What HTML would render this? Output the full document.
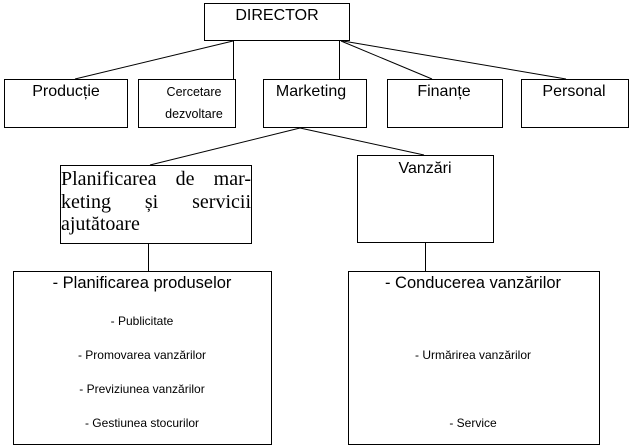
<!DOCTYPE html>
<html><head><meta charset="utf-8"><style>
body{margin:0;width:630px;height:447px;background:#fff;position:relative;overflow:hidden;font-family:"Liberation Sans",sans-serif;color:#000}
.b{position:absolute;border:1px solid #000;box-sizing:border-box;background:#fff}
.t{position:absolute;white-space:nowrap;text-align:center;transform:translateX(-50%)}
.j{display:block;width:190px;text-align:justify;text-align-last:justify;height:22.5px}
svg{position:absolute;left:0;top:0}
</style></head><body>
<svg width="630" height="447"><g stroke="#000" stroke-width="1" fill="none">
<line x1="233" y1="41" x2="75" y2="79"/>
<line x1="233.5" y1="41" x2="233.5" y2="79"/>
<line x1="339.5" y1="41" x2="339.5" y2="79"/>
<line x1="341" y1="41" x2="432" y2="79"/>
<line x1="343" y1="41" x2="566" y2="79"/>
<line x1="300" y1="128" x2="150" y2="165"/>
<line x1="300" y1="128" x2="424" y2="155"/>
<line x1="148.5" y1="243" x2="148.5" y2="271"/>
<line x1="425.5" y1="242" x2="425.5" y2="271"/>
</g></svg>
<div class="b" style="left:204px;top:3px;width:146px;height:38px"></div>
<div class="t" style="left:277px;top:7px;font-size:16px">DIRECTOR</div>
<div class="b" style="left:4px;top:79px;width:124px;height:49px"></div>
<div class="t" style="left:66px;top:83px;font-size:16px">Producție</div>
<div class="b" style="left:138px;top:79px;width:98px;height:49px"></div>
<div class="t" style="left:194px;top:81px;font-size:12.5px;line-height:22px">Cercetare<br>dezvoltare</div>
<div class="b" style="left:263px;top:79px;width:104px;height:49px"></div>
<div class="t" style="left:311px;top:83px;font-size:16px">Marketing</div>
<div class="b" style="left:387px;top:79px;width:116px;height:49px"></div>
<div class="t" style="left:444px;top:83px;font-size:16px">Finanțe</div>
<div class="b" style="left:521px;top:79px;width:108px;height:49px"></div>
<div class="t" style="left:574px;top:83px;font-size:16px">Personal</div>
<div class="b" style="left:60px;top:165px;width:192px;height:79px"></div>
<div style="position:absolute;left:61px;top:168px;width:190px;font-family:'Liberation Serif',serif;font-size:20px;line-height:22.5px">
<span class="j">Planificarea de mar-</span><span class="j">keting și servicii</span><span style="display:block">ajutătoare</span></div>
<div class="b" style="left:357px;top:155px;width:137px;height:88px"></div>
<div class="t" style="left:425px;top:160px;font-size:16px">Vanzări</div>
<div class="b" style="left:13px;top:271px;width:259px;height:174px"></div>
<div class="t" style="left:142px;top:274px;font-size:16.5px">- Planificarea produselor</div>
<div class="t" style="left:142px;top:314px;font-size:12px">- Publicitate</div>
<div class="t" style="left:142px;top:348px;font-size:12px">- Promovarea vanzărilor</div>
<div class="t" style="left:142px;top:382px;font-size:12px">- Previziunea vanzărilor</div>
<div class="t" style="left:142px;top:416px;font-size:12px">- Gestiunea stocurilor</div>
<div class="b" style="left:348px;top:271px;width:252px;height:174px"></div>
<div class="t" style="left:473px;top:274px;font-size:16.5px">- Conducerea vanzărilor</div>
<div class="t" style="left:473px;top:348px;font-size:12px">- Urmărirea vanzărilor</div>
<div class="t" style="left:473px;top:416px;font-size:12px">- Service</div>
</body></html>
